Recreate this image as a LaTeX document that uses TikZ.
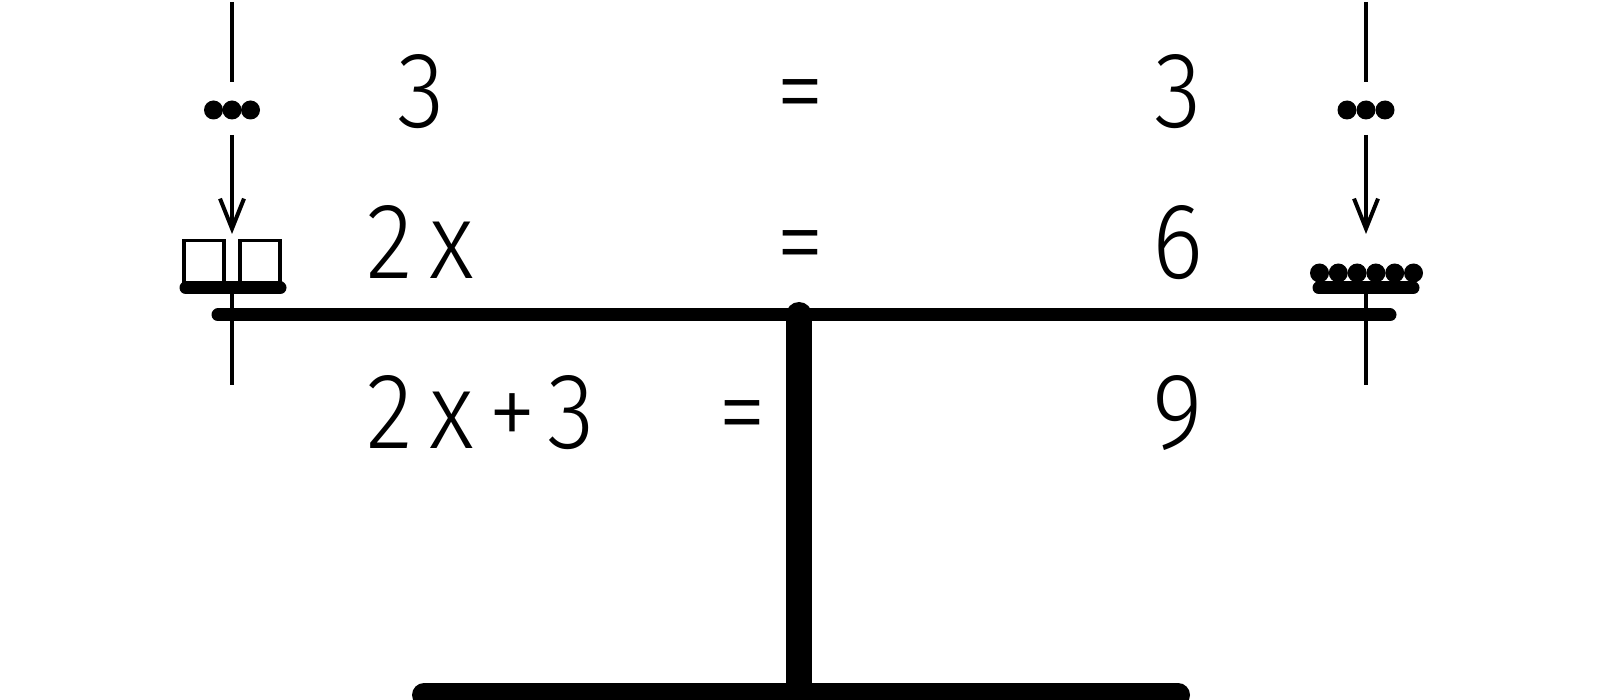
\documentclass[tikz,border=0pt]{standalone}
\usepackage{fontspec}
\setmainfont{Fira Sans Light}[FakeStretch=0.9]
\newfontfamily\spacedfont{Fira Sans Light}[FakeStretch=0.9,LetterSpace=16]
\usetikzlibrary{arrows.meta}
\begin{document}
\begin{tikzpicture}[x=1pt,y=-1pt,
  thin line/.style={line width=4pt},
  bar/.style={line width=13pt,line cap=round},
  ball/.style={fill=black,circle,inner sep=0pt,minimum size=19pt},
  weight/.style={draw,line width=3.5pt,inner sep=0pt,minimum width=40pt,minimum height=46pt},
  lbl/.style={inner sep=0pt,font=\fontsize{108}{108}\selectfont},
  wlbl/.style={inner sep=0pt,font=\spacedfont\fontsize{108}{108}\selectfont},
  arr/.style={thin line,-{Straight Barb[length=30pt,width=24pt,line width=4pt]}}]
\useasboundingbox (0,0) rectangle (1600,700);
% stand
\coordinate (pivot) at (799,315);
\coordinate (foot) at (799,695);
\draw[line width=26pt] (pivot) -- (foot);
\draw[line width=24pt,line cap=round] (424,695) coordinate (bl) -- (1178,695) coordinate (br);
\fill (pivot) circle (13pt);
% beam
\coordinate (beamL) at (218,315);
\coordinate (beamR) at (1390,315);
\draw[bar] (beamL) -- (beamR);
% left pan
\coordinate (lTop) at (232,2);
\coordinate (lTopEnd) at (232,82);
\coordinate (lArrS) at (232,135);
\coordinate (lArrE) at (232,234);
\coordinate (lPan) at (232,288);
\coordinate (lBot) at (232,385);
\draw[thin line] (lTop) -- (lTopEnd);
\draw[arr] (lArrS) -- (lArrE);
\draw[thin line] (lPan) -- (lBot);
\node[ball] (ld1) at (213.5,110) {};
\node[ball] (ld2) at (232,110) {};
\node[ball] (ld3) at (250.5,110) {};
\node[weight] (bx1) at (204,263.5) {};
\node[weight] (bx2) at (260,263.5) {};
\draw[bar] (186,288) coordinate (lpa) -- (280,288) coordinate (lpb);
% right pan
\coordinate (rTop) at (1366,2);
\coordinate (rTopEnd) at (1366,82);
\coordinate (rArrS) at (1366,135);
\coordinate (rArrE) at (1366,234);
\coordinate (rPan) at (1366,288);
\coordinate (rBot) at (1366,385);
\draw[thin line] (rTop) -- (rTopEnd);
\draw[arr] (rArrS) -- (rArrE);
\draw[thin line] (rPan) -- (rBot);
\node[ball] (rd1) at (1347,110) {};
\node[ball] (rd2) at (1366,110) {};
\node[ball] (rd3) at (1385,110) {};
\foreach \i in {0,...,5} {\node[ball] (rs\i) at (1319.5+18.8*\i,273) {};}
\draw[bar] (1319,288) coordinate (rpa) -- (1413,288) coordinate (rpb);
% texts
\node[lbl,anchor=base] (t1) at (421,128) {3};
\node[wlbl,anchor=base west] (t2) at (366,279) {2x};
\node[wlbl,anchor=base west] (t3) at (366,448) {2x+3};
\node[lbl,anchor=base] (e1) at (800,128) {=};
\node[lbl,anchor=base] (e2) at (800,279) {=};
\node[lbl,anchor=base] (e3) at (742,448) {=};
\node[lbl,anchor=base] (r1) at (1178,128) {3};
\node[lbl,anchor=base] (r2) at (1178,279) {6};
\node[lbl,anchor=base] (r3) at (1178,448) {9};
\end{tikzpicture}
\end{document}
